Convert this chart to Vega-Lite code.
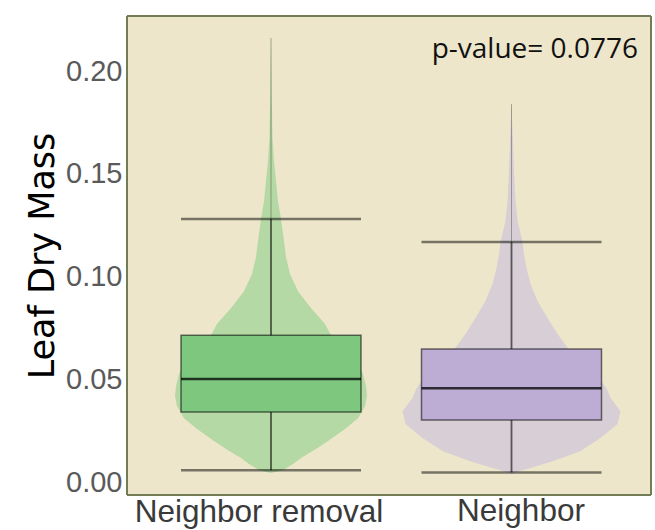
{
  "$schema": "https://vega.github.io/schema/vega-lite/v6.json",
  "autosize": {"type": "pad"},
  "padding": {"left": 25, "top": 15, "right": 5, "bottom": 0},
  "config": {"view": {"fill": "#EDE6CA", "stroke": null}, "font": "Liberation Sans"},
  "spacing": 0,
  "bounds": "flush",
  "datasets": {
    "violin": [
      {"group": "Neighbor removal", "value": 0.0044, "density": 0},
      {"group": "Neighbor removal", "value": 0.0058, "density": 0.12},
      {"group": "Neighbor removal", "value": 0.0088, "density": 0.22},
      {"group": "Neighbor removal", "value": 0.0117, "density": 0.30},
      {"group": "Neighbor removal", "value": 0.0161, "density": 0.45},
      {"group": "Neighbor removal", "value": 0.0200, "density": 0.57},
      {"group": "Neighbor removal", "value": 0.0258, "density": 0.74},
      {"group": "Neighbor removal", "value": 0.0311, "density": 0.87},
      {"group": "Neighbor removal", "value": 0.0370, "density": 0.94},
      {"group": "Neighbor removal", "value": 0.0418, "density": 0.96},
      {"group": "Neighbor removal", "value": 0.0467, "density": 0.95},
      {"group": "Neighbor removal", "value": 0.0526, "density": 0.92},
      {"group": "Neighbor removal", "value": 0.0579, "density": 0.87},
      {"group": "Neighbor removal", "value": 0.0637, "density": 0.77},
      {"group": "Neighbor removal", "value": 0.0686, "density": 0.65},
      {"group": "Neighbor removal", "value": 0.0715, "density": 0.60},
      {"group": "Neighbor removal", "value": 0.0769, "density": 0.54},
      {"group": "Neighbor removal", "value": 0.0847, "density": 0.40},
      {"group": "Neighbor removal", "value": 0.0929, "density": 0.27},
      {"group": "Neighbor removal", "value": 0.1012, "density": 0.19},
      {"group": "Neighbor removal", "value": 0.1095, "density": 0.15},
      {"group": "Neighbor removal", "value": 0.1173, "density": 0.13},
      {"group": "Neighbor removal", "value": 0.1280, "density": 0.10},
      {"group": "Neighbor removal", "value": 0.1367, "density": 0.07},
      {"group": "Neighbor removal", "value": 0.1465, "density": 0.05},
      {"group": "Neighbor removal", "value": 0.1562, "density": 0.03},
      {"group": "Neighbor removal", "value": 0.1674, "density": 0.015},
      {"group": "Neighbor removal", "value": 0.1854, "density": 0.008},
      {"group": "Neighbor removal", "value": 0.2161, "density": 0},
      {"group": "Neighbor", "value": 0.0039, "density": 0},
      {"group": "Neighbor", "value": 0.0049, "density": 0.05},
      {"group": "Neighbor", "value": 0.0068, "density": 0.19},
      {"group": "Neighbor", "value": 0.0102, "density": 0.42},
      {"group": "Neighbor", "value": 0.0151, "density": 0.69},
      {"group": "Neighbor", "value": 0.0214, "density": 0.89},
      {"group": "Neighbor", "value": 0.0282, "density": 1.06},
      {"group": "Neighbor", "value": 0.0345, "density": 1.09},
      {"group": "Neighbor", "value": 0.0409, "density": 0.99},
      {"group": "Neighbor", "value": 0.0457, "density": 0.95},
      {"group": "Neighbor", "value": 0.0540, "density": 0.82},
      {"group": "Neighbor", "value": 0.0599, "density": 0.70},
      {"group": "Neighbor", "value": 0.0647, "density": 0.57},
      {"group": "Neighbor", "value": 0.0720, "density": 0.46},
      {"group": "Neighbor", "value": 0.0798, "density": 0.36},
      {"group": "Neighbor", "value": 0.0881, "density": 0.26},
      {"group": "Neighbor", "value": 0.0964, "density": 0.19},
      {"group": "Neighbor", "value": 0.1041, "density": 0.15},
      {"group": "Neighbor", "value": 0.1124, "density": 0.12},
      {"group": "Neighbor", "value": 0.1168, "density": 0.11},
      {"group": "Neighbor", "value": 0.1270, "density": 0.06},
      {"group": "Neighbor", "value": 0.1367, "density": 0.04},
      {"group": "Neighbor", "value": 0.1513, "density": 0.025},
      {"group": "Neighbor", "value": 0.1659, "density": 0.015},
      {"group": "Neighbor", "value": 0.1839, "density": 0}
    ],
    "box": [
      {"group": "Neighbor removal", "lower": 0.0057, "q1": 0.0341, "median": 0.0501, "q3": 0.0715, "upper": 0.1280, "max": 0.2161},
      {"group": "Neighbor", "lower": 0.0047, "q1": 0.0302, "median": 0.0457, "q3": 0.0647, "upper": 0.1168, "max": 0.1839}
    ],
    "note": [{"label": "p-value= 0.0776"}],
    "frame": [{}]
  },
  "hconcat": [
    {
      "width": 264,
      "height": 479,
      "title": {"text": "Neighbor removal", "orient": "bottom", "anchor": "middle", "fontSize": 31.5, "fontWeight": "normal", "color": "#3a3a3a", "font": "Liberation Sans", "offset": 0},
      "resolve": {"scale": {"x": "independent"}},
      "layer": [
        {
          "data": {"name": "violin"},
          "transform": [{"filter": "datum.group === 'Neighbor removal'"}],
          "mark": {"type": "area", "orient": "horizontal", "color": "#B5D9A5"},
          "encoding": {
            "y": {"field": "value", "type": "quantitative", "title": "Leaf Dry Mass", "scale": {"domain": [-0.0063, 0.2268], "nice": false, "zero": false},
              "axis": {"values": [0, 0.05, 0.1, 0.15, 0.2], "format": ".2f", "title": "Leaf Dry Mass", "titleFont": "DejaVu Sans", "titleFontSize": 35, "titleFontWeight": "normal", "titleColor": "#000000", "labelFont": "Liberation Sans", "labelFontSize": 29, "labelColor": "#5a5a5a", "ticks": false, "domain": false, "grid": false, "labelPadding": 5, "titlePadding": 5}},
            "x": {"field": "density", "type": "quantitative", "stack": null, "scale": {"domain": [-1.44, 1.2], "nice": false, "zero": false}, "axis": null},
            "x2": {"datum": 0}
          }
        },
        {
          "data": {"name": "violin"},
          "transform": [{"filter": "datum.group === 'Neighbor removal'"}],
          "mark": {"type": "area", "orient": "horizontal", "color": "#B5D9A5"},
          "encoding": {
            "y": {"field": "value", "type": "quantitative", "title": "Leaf Dry Mass"},
            "x": {"field": "density", "type": "quantitative", "stack": null, "scale": {"domain": [-1.2, 1.44], "reverse": true, "nice": false, "zero": false}, "axis": null},
            "x2": {"datum": 0}
          }
        },
        {
          "data": {"name": "box"},
          "transform": [{"filter": "datum.group === 'Neighbor removal'"}],
          "mark": {"type": "rule", "color": "#000000", "opacity": 0.3, "strokeWidth": 1},
          "encoding": {
            "x": {"datum": 0, "type": "quantitative", "scale": {"domain": [-1.44, 1.2], "nice": false, "zero": false}, "axis": null},
            "y": {"field": "upper", "type": "quantitative", "title": "Leaf Dry Mass"},
            "y2": {"field": "max"}
          }
        },
        {
          "data": {"name": "box"},
          "transform": [{"filter": "datum.group === 'Neighbor removal'"}],
          "mark": {"type": "rule", "color": "#000000", "opacity": 0.6, "strokeWidth": 1.8},
          "encoding": {
            "x": {"datum": 0, "type": "quantitative", "scale": {"domain": [-1.44, 1.2], "nice": false, "zero": false}, "axis": null},
            "y": {"field": "lower", "type": "quantitative", "title": "Leaf Dry Mass"},
            "y2": {"field": "upper"}
          }
        },
        {
          "data": {"name": "box"},
          "transform": [{"filter": "datum.group === 'Neighbor removal'"}],
          "mark": {"type": "rect", "fill": "#7DC87E", "stroke": "#000000", "strokeOpacity": 0.55, "strokeWidth": 1.5},
          "encoding": {
            "x": {"datum": -0.9, "type": "quantitative", "scale": {"domain": [-1.44, 1.2], "nice": false, "zero": false}, "axis": null},
            "x2": {"datum": 0.9},
            "y": {"field": "q1", "type": "quantitative", "title": "Leaf Dry Mass"},
            "y2": {"field": "q3"}
          }
        },
        {
          "data": {"name": "box"},
          "transform": [{"filter": "datum.group === 'Neighbor removal'"}],
          "mark": {"type": "rule", "color": "#000000", "opacity": 0.75, "strokeWidth": 2.5},
          "encoding": {
            "x": {"datum": -0.9, "type": "quantitative", "scale": {"domain": [-1.44, 1.2], "nice": false, "zero": false}, "axis": null},
            "x2": {"datum": 0.9},
            "y": {"field": "median", "type": "quantitative", "title": "Leaf Dry Mass"}
          }
        },
        {
          "data": {"name": "box"},
          "transform": [{"filter": "datum.group === 'Neighbor removal'"}],
          "mark": {"type": "rule", "color": "#000000", "opacity": 0.5, "strokeWidth": 2.5},
          "encoding": {
            "x": {"datum": -0.9, "type": "quantitative", "scale": {"domain": [-1.44, 1.2], "nice": false, "zero": false}, "axis": null},
            "x2": {"datum": 0.9},
            "y": {"field": "lower", "type": "quantitative", "title": "Leaf Dry Mass"}
          }
        },
        {
          "data": {"name": "box"},
          "transform": [{"filter": "datum.group === 'Neighbor removal'"}],
          "mark": {"type": "rule", "color": "#000000", "opacity": 0.5, "strokeWidth": 2.5},
          "encoding": {
            "x": {"datum": -0.9, "type": "quantitative", "scale": {"domain": [-1.44, 1.2], "nice": false, "zero": false}, "axis": null},
            "x2": {"datum": 0.9},
            "y": {"field": "upper", "type": "quantitative", "title": "Leaf Dry Mass"}
          }
        },
        {
          "data": {"name": "frame"},
          "mark": {"type": "rule", "color": "#737D55", "strokeWidth": 2},
          "encoding": {"y": {"datum": 0.2268, "type": "quantitative", "title": "Leaf Dry Mass"}}
        },
        {
          "data": {"name": "frame"},
          "mark": {"type": "rule", "color": "#737D55", "strokeWidth": 2},
          "encoding": {"y": {"datum": -0.0063, "type": "quantitative", "title": "Leaf Dry Mass"}}
        },
        {
          "data": {"name": "frame"},
          "mark": {"type": "rule", "color": "#737D55", "strokeWidth": 2},
          "encoding": {"x": {"datum": -1.44, "type": "quantitative", "scale": {"domain": [-1.44, 1.2], "nice": false, "zero": false}, "axis": null}}
        }
      ]
    },
    {
      "width": 260,
      "height": 479,
      "title": {"text": "Neighbor", "orient": "bottom", "anchor": "middle", "fontSize": 31.5, "fontWeight": "normal", "color": "#3a3a3a", "font": "Liberation Sans", "offset": 0},
      "resolve": {"scale": {"x": "independent"}},
      "layer": [
        {
          "data": {"name": "violin"},
          "transform": [{"filter": "datum.group === 'Neighbor'"}],
          "mark": {"type": "area", "orient": "horizontal", "color": "#D7CED6"},
          "encoding": {
            "y": {"field": "value", "type": "quantitative", "scale": {"domain": [-0.0063, 0.2268], "nice": false, "zero": false}, "axis": null},
            "x": {"field": "density", "type": "quantitative", "stack": null, "scale": {"domain": [-1.205, 1.395], "nice": false, "zero": false}, "axis": null},
            "x2": {"datum": 0}
          }
        },
        {
          "data": {"name": "violin"},
          "transform": [{"filter": "datum.group === 'Neighbor'"}],
          "mark": {"type": "area", "orient": "horizontal", "color": "#D7CED6"},
          "encoding": {
            "y": {"field": "value", "type": "quantitative", "axis": null},
            "x": {"field": "density", "type": "quantitative", "stack": null, "scale": {"domain": [-1.395, 1.205], "reverse": true, "nice": false, "zero": false}, "axis": null},
            "x2": {"datum": 0}
          }
        },
        {
          "data": {"name": "box"},
          "transform": [{"filter": "datum.group === 'Neighbor'"}],
          "mark": {"type": "rule", "color": "#000000", "opacity": 0.3, "strokeWidth": 1},
          "encoding": {
            "x": {"datum": 0, "type": "quantitative", "scale": {"domain": [-1.205, 1.395], "nice": false, "zero": false}, "axis": null},
            "y": {"field": "upper", "type": "quantitative", "axis": null},
            "y2": {"field": "max"}
          }
        },
        {
          "data": {"name": "box"},
          "transform": [{"filter": "datum.group === 'Neighbor'"}],
          "mark": {"type": "rule", "color": "#000000", "opacity": 0.6, "strokeWidth": 1.8},
          "encoding": {
            "x": {"datum": 0, "type": "quantitative", "scale": {"domain": [-1.205, 1.395], "nice": false, "zero": false}, "axis": null},
            "y": {"field": "lower", "type": "quantitative", "axis": null},
            "y2": {"field": "upper"}
          }
        },
        {
          "data": {"name": "box"},
          "transform": [{"filter": "datum.group === 'Neighbor'"}],
          "mark": {"type": "rect", "fill": "#BDADD4", "stroke": "#000000", "strokeOpacity": 0.55, "strokeWidth": 1.5},
          "encoding": {
            "x": {"datum": -0.9, "type": "quantitative", "scale": {"domain": [-1.205, 1.395], "nice": false, "zero": false}, "axis": null},
            "x2": {"datum": 0.9},
            "y": {"field": "q1", "type": "quantitative", "axis": null},
            "y2": {"field": "q3"}
          }
        },
        {
          "data": {"name": "box"},
          "transform": [{"filter": "datum.group === 'Neighbor'"}],
          "mark": {"type": "rule", "color": "#000000", "opacity": 0.75, "strokeWidth": 2.5},
          "encoding": {
            "x": {"datum": -0.9, "type": "quantitative", "scale": {"domain": [-1.205, 1.395], "nice": false, "zero": false}, "axis": null},
            "x2": {"datum": 0.9},
            "y": {"field": "median", "type": "quantitative", "axis": null}
          }
        },
        {
          "data": {"name": "box"},
          "transform": [{"filter": "datum.group === 'Neighbor'"}],
          "mark": {"type": "rule", "color": "#000000", "opacity": 0.5, "strokeWidth": 2.5},
          "encoding": {
            "x": {"datum": -0.9, "type": "quantitative", "scale": {"domain": [-1.205, 1.395], "nice": false, "zero": false}, "axis": null},
            "x2": {"datum": 0.9},
            "y": {"field": "lower", "type": "quantitative", "axis": null}
          }
        },
        {
          "data": {"name": "box"},
          "transform": [{"filter": "datum.group === 'Neighbor'"}],
          "mark": {"type": "rule", "color": "#000000", "opacity": 0.5, "strokeWidth": 2.5},
          "encoding": {
            "x": {"datum": -0.9, "type": "quantitative", "scale": {"domain": [-1.205, 1.395], "nice": false, "zero": false}, "axis": null},
            "x2": {"datum": 0.9},
            "y": {"field": "upper", "type": "quantitative", "axis": null}
          }
        },
        {
          "data": {"name": "note"},
          "mark": {"type": "text", "align": "right", "baseline": "alphabetic", "font": "Open Sans", "fontSize": 28, "color": "#111111"},
          "encoding": {
            "x": {"datum": 1.265, "type": "quantitative", "scale": {"domain": [-1.205, 1.395], "nice": false, "zero": false}, "axis": null},
            "y": {"datum": 0.2063, "type": "quantitative", "axis": null},
            "text": {"field": "label"}
          }
        },
        {
          "data": {"name": "frame"},
          "mark": {"type": "rule", "color": "#737D55", "strokeWidth": 2},
          "encoding": {"y": {"datum": 0.2268, "type": "quantitative", "axis": null}}
        },
        {
          "data": {"name": "frame"},
          "mark": {"type": "rule", "color": "#737D55", "strokeWidth": 2},
          "encoding": {"y": {"datum": -0.0063, "type": "quantitative", "axis": null}}
        },
        {
          "data": {"name": "frame"},
          "mark": {"type": "rule", "color": "#737D55", "strokeWidth": 2},
          "encoding": {"x": {"datum": 1.395, "type": "quantitative", "scale": {"domain": [-1.205, 1.395], "nice": false, "zero": false}, "axis": null}}
        }
      ]
    }
  ]
}
